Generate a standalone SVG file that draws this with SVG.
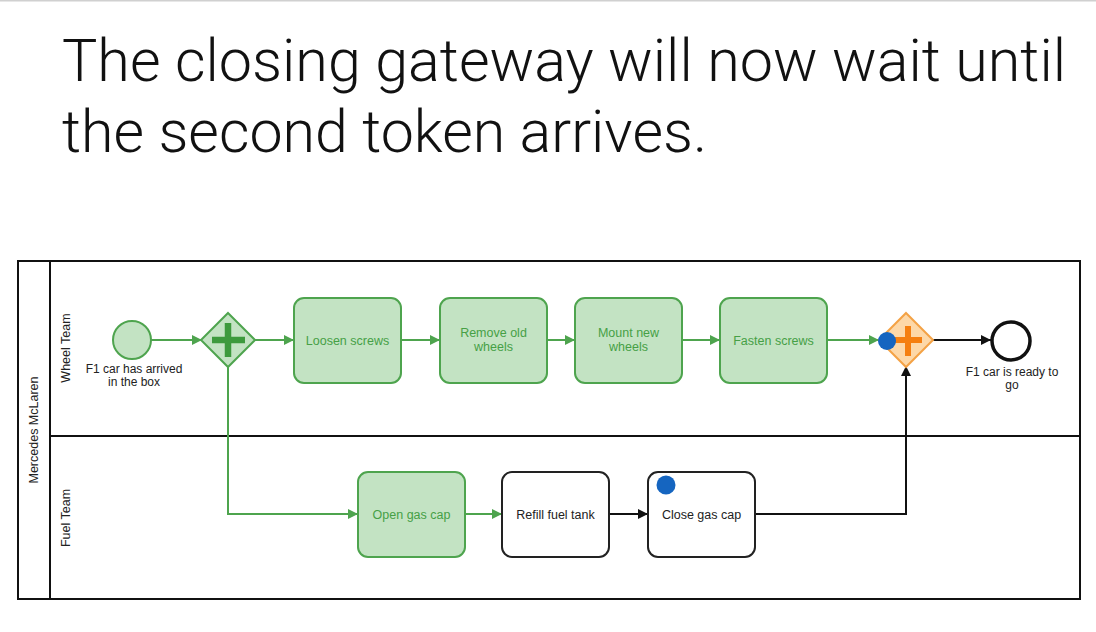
<svg xmlns="http://www.w3.org/2000/svg" width="1096" height="632" viewBox="0 0 1096 632">
<style>
.title{font-family:"Roboto Light",Roboto,"Liberation Sans",sans-serif;font-weight:300;font-size:60px;fill:#111}
.lbl{font-family:"Liberation Sans",Arial,sans-serif;font-size:12px;fill:#222;text-anchor:middle}
.lane{font-family:"Liberation Sans",Arial,sans-serif;font-size:12.5px;fill:#222;text-anchor:middle}
.gt{font-family:"Liberation Sans",Arial,sans-serif;font-size:12.5px;fill:#46a046;text-anchor:middle}
.bt{font-family:"Liberation Sans",Arial,sans-serif;font-size:12.5px;fill:#222;text-anchor:middle}
.gtask{fill:#c3e3c3;stroke:#4ea44e;stroke-width:2}
.btask{fill:#fff;stroke:#222;stroke-width:2}
.gflow{fill:none;stroke:#4ea44e;stroke-width:2}
.bflow{fill:none;stroke:#111;stroke-width:2}
.pool{fill:none;stroke:#111;stroke-width:2}
</style>
<defs>
<marker id="ag" viewBox="0 0 10 10" refX="10" refY="5" markerWidth="10" markerHeight="10" markerUnits="userSpaceOnUse" orient="auto"><path d="M0,0 L10,5 L0,10 z" fill="#4ea44e"/></marker>
<marker id="ab" viewBox="0 0 10 10" refX="10" refY="5" markerWidth="10" markerHeight="10" markerUnits="userSpaceOnUse" orient="auto"><path d="M0,0 L10,5 L0,10 z" fill="#111"/></marker>
</defs>
<rect width="1096" height="632" fill="#fff"/>
<line x1="0" y1="0.5" x2="1096" y2="0.5" stroke="#d0d0d0" stroke-width="2"/>
<g id="title">
<text class="title" x="62" y="81" textLength="1004" lengthAdjust="spacingAndGlyphs">The closing gateway will now wait until</text>
<text class="title" x="62" y="152" textLength="645" lengthAdjust="spacingAndGlyphs">the second token arrives.</text>
</g>
<g id="pool">
<rect class="pool" x="18" y="261" width="1062" height="338"/>
<line class="pool" x1="50" y1="261" x2="50" y2="599"/>
<line class="pool" x1="50" y1="436" x2="1080" y2="436"/>
<text class="lane" transform="translate(38,430) rotate(-90)">Mercedes McLaren</text>
<text class="lane" transform="translate(70,348) rotate(-90)">Wheel Team</text>
<text class="lane" transform="translate(70,518) rotate(-90)">Fuel Team</text>
</g>
<g id="connectors">
<line class="gflow" x1="151" y1="340" x2="202" y2="340" marker-end="url(#ag)"/>
<line class="gflow" x1="254" y1="340" x2="294" y2="340" marker-end="url(#ag)"/>
<line class="gflow" x1="401" y1="340" x2="440" y2="340" marker-end="url(#ag)"/>
<line class="gflow" x1="547" y1="340" x2="575" y2="340" marker-end="url(#ag)"/>
<line class="gflow" x1="682" y1="340" x2="720" y2="340" marker-end="url(#ag)"/>
<line class="gflow" x1="827" y1="340" x2="879" y2="340" marker-end="url(#ag)"/>
<line class="bflow" x1="932" y1="340" x2="991" y2="340" marker-end="url(#ab)"/>
<polyline class="gflow" points="228,367 228,514 358,514" marker-end="url(#ag)"/>
<line class="gflow" x1="465" y1="514" x2="502" y2="514" marker-end="url(#ag)"/>
<line class="bflow" x1="609" y1="514" x2="648" y2="514" marker-end="url(#ab)"/>
<polyline class="bflow" points="755,514 906,514 906,366" marker-end="url(#ab)"/>
</g>
<g id="start">
<circle cx="132" cy="340" r="19" fill="#c3e3c3" stroke="#4ea44e" stroke-width="2"/>
<text class="lbl" x="134" y="373">F1 car has arrived</text>
<text class="lbl" x="134" y="386">in the box</text>
</g>
<g id="split">
<polygon points="228,313 255,340 228,367 201,340" fill="#c3e3c3" stroke="#4ea44e" stroke-width="2"/>
<path d="M212,340 H245 M228,323 V357" stroke="#3d9a3d" stroke-width="6.5"/>
</g>
<g id="loosen">
<rect class="gtask" x="294" y="298" width="107" height="85" rx="10"/>
<text class="gt" x="347.5" y="344.5">Loosen screws</text>
</g>
<g id="remove">
<rect class="gtask" x="440" y="298" width="107" height="85" rx="10"/>
<text class="gt" x="493.5" y="337">Remove old</text>
<text class="gt" x="493.5" y="351">wheels</text>
</g>
<g id="mount">
<rect class="gtask" x="575" y="298" width="107" height="85" rx="10"/>
<text class="gt" x="628.5" y="337">Mount new</text>
<text class="gt" x="628.5" y="351">wheels</text>
</g>
<g id="fasten">
<rect class="gtask" x="720" y="298" width="107" height="85" rx="10"/>
<text class="gt" x="773.5" y="344.5">Fasten screws</text>
</g>
<g id="join">
<polygon points="906,313 933,340 906,367 879,340" fill="#fdd8a8" stroke="#f4a245" stroke-width="2"/>
<path d="M893,340 H922 M908,326 V356" stroke="#f57f10" stroke-width="6"/>
<circle cx="887" cy="341" r="9" fill="#1565c0"/>
</g>
<g id="end">
<circle cx="1011" cy="341" r="19" fill="#fff" stroke="#111" stroke-width="3.5"/>
<text class="lbl" x="1012" y="376">F1 car is ready to</text>
<text class="lbl" x="1012" y="389">go</text>
</g>
<g id="open">
<rect class="gtask" x="358" y="472" width="107" height="85" rx="10"/>
<text class="gt" x="411.5" y="518.5">Open gas cap</text>
</g>
<g id="refill">
<rect class="btask" x="502" y="472" width="107" height="85" rx="10"/>
<text class="bt" x="555.5" y="518.5">Refill fuel tank</text>
</g>
<g id="close">
<rect class="btask" x="648" y="472" width="107" height="85" rx="10"/>
<text class="bt" x="701.5" y="518.5">Close gas cap</text>
<circle cx="666" cy="485" r="9.5" fill="#1565c0"/>
</g>
</svg>
